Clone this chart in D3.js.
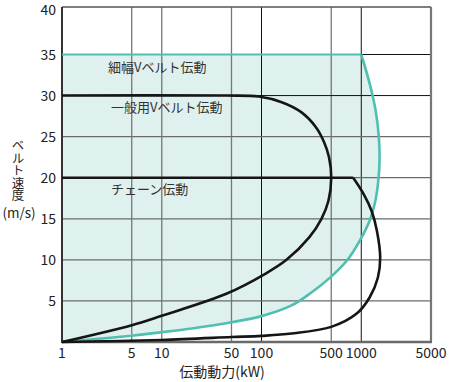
<!DOCTYPE html>
<html><head><meta charset="utf-8">
<script src="https://cdn.jsdelivr.net/npm/d3@7"></script>
<style>body{margin:0;background:#fff}svg{display:block}</style>
</head><body>
<svg id="c" width="449" height="382"></svg>
<script>
// ---- data ----
const xTicks = [1, 5, 10, 50, 100, 500, 1000, 5000];
const xTickLabels = ["1", "5", "10", "50", "100", "500", "1000", "5000"];
const yTicks = [5, 10, 15, 20, 25, 30, 35, 40];
const yTickLabels = ["5", "10", "15", "20", "25", "30", "35", "40"];
// 細幅Vベルト伝動 (teal boundary) [kW, m/s]
const narrowFlat = [[1, 35], [1000, 35]];
const narrowCurve = [[1000, 35], [1216, 31.42], [1393, 28.18], [1501, 24.92], [1525, 22.02], [1468, 19.19], [1361, 16.76], [1216, 14.8], [970, 12.38], [718, 9.92], [493, 7.9], [314, 6.0], [200, 4.45], [100, 3.15], [50, 2.4], [20, 1.65], [10, 1.2], [5, 0.77], [1, 0]];
// 一般用Vベルト伝動
const generalCurve = [[1, 30], [44.4, 30], [94, 29.88], [159.5, 29.19], [250, 27.98], [351, 26.15], [424, 24.33], [475, 22.5], [500, 20], [468, 17.17], [399, 15], [302, 12.77], [178, 10], [109, 8.3], [44.4, 5.87], [10, 3.2], [5, 2.05], [1, 0]];
// チェーン伝動
const chainFlat = [[1, 20], [830, 20]];
const chainCurve = [[830, 20], [1060, 17.98], [1270, 15.95], [1435, 13.52], [1548, 10.28], [1468, 7.85], [1216, 5.45], [900, 3.46], [500, 1.84], [200, 1.03], [100, 0.75], [50, 0.6], [10, 0.25], [1, 0]];
const seriesLabels = ["細幅Vベルト伝動", "一般用Vベルト伝動", "チェーン伝動"];
const yTitle = "ベルト速度";
const yTitleUnit = "(m/s)";
const xTitle = "伝動動力(kW)";

// ---- layout ----
const L = 62, R = 431, T = 7, B = 342;
const svg = d3.select("#c");
const font = "'Noto Sans CJK JP','Noto Sans',sans-serif";
const x = d3.scaleLog().domain([1, 5000]).range([L, R]);
const y = d3.scaleLinear().domain([0, 35, 40]).range([B, 54.5, T]);

const line = d3.line().x(d => x(d[0])).y(d => y(d[1]));
const curve = d3.line().x(d => x(d[0])).y(d => y(d[1])).curve(d3.curveCatmullRom.alpha(0.5));

// fill region
svg.append("path")
  .attr("d", curve(narrowCurve) + "L" + x(1) + "," + y(35) + "Z")
  .attr("fill", "#dff1ef");

// gridlines
const darkX = new Set([100, 1000]);
svg.selectAll("line.gx").data(xTicks.filter(v => v > 1 && v < 5000)).join("line")
  .attr("x1", d => x(d)).attr("x2", d => x(d)).attr("y1", T).attr("y2", B)
  .attr("stroke", d => darkX.has(d) ? "#111" : "#777")
  .attr("stroke-width", d => darkX.has(d) ? 1 : 1.3);
const darkY = new Set([30, 35]);
svg.selectAll("line.gy").data(yTicks.filter(v => v < 40)).join("line")
  .attr("x1", L).attr("x2", R).attr("y1", d => y(d)).attr("y2", d => y(d))
  .attr("stroke", d => darkY.has(d) ? "#111" : "#6b6b6b")
  .attr("stroke-width", d => darkY.has(d) ? 1 : 1.3);

// frame
svg.append("line").attr("x1", L).attr("x2", R).attr("y1", T).attr("y2", T).attr("stroke", "#555").attr("stroke-width", 1.5);
svg.append("line").attr("x1", R).attr("x2", R).attr("y1", T).attr("y2", B).attr("stroke", "#777").attr("stroke-width", 2.2);
svg.append("line").attr("x1", L).attr("x2", R + 1).attr("y1", B).attr("y2", B).attr("stroke", "#6a6a6a").attr("stroke-width", 2.4);
svg.append("line").attr("x1", L).attr("x2", L).attr("y1", T).attr("y2", B + 1).attr("stroke", "#333").attr("stroke-width", 2);

// curves
const teal = "#4fbfb0";
svg.append("path").attr("d", line(narrowFlat)).attr("fill", "none").attr("stroke", teal).attr("stroke-width", 2.2);
svg.append("path").attr("d", curve(narrowCurve)).attr("fill", "none").attr("stroke", teal).attr("stroke-width", 2.6);
svg.append("path").attr("d", curve(generalCurve)).attr("fill", "none").attr("stroke", "#151515").attr("stroke-width", 2.6);
svg.append("path").attr("d", line(chainFlat)).attr("fill", "none").attr("stroke", "#151515").attr("stroke-width", 2.6);
svg.append("path").attr("d", curve(chainCurve)).attr("fill", "none").attr("stroke", "#151515").attr("stroke-width", 2.6);

// series labels
const labelPos = [[108, 72], [111, 112], [111, 194]];
svg.selectAll("text.sl").data(seriesLabels).join("text")
  .attr("x", (d, i) => labelPos[i][0]).attr("y", (d, i) => labelPos[i][1])
  .attr("font-family", font).attr("font-size", 13).attr("fill", "#333")
  .text(d => d);

// x tick labels
svg.selectAll("text.xt").data(xTicks).join("text")
  .attr("x", d => x(d)).attr("y", 358)
  .attr("text-anchor", "middle").attr("font-family", font).attr("font-size", 14).attr("fill", "#222")
  .text((d, i) => xTickLabels[i]);
// y tick labels
svg.selectAll("text.yt").data(yTicks).join("text")
  .attr("x", 56).attr("y", d => Math.max(y(d), 10)).attr("dy", "0.36em")
  .attr("text-anchor", "end").attr("font-family", font).attr("font-size", 14).attr("fill", "#222")
  .text((d, i) => yTickLabels[i]);

// titles
svg.append("text").attr("x", 222).attr("y", 377).attr("text-anchor", "middle")
  .attr("font-family", font).attr("font-size", 14).attr("fill", "#222").text(xTitle);
svg.append("text").attr("x", 18).attr("y", 139)
  .style("writing-mode", "vertical-rl")
  .attr("font-family", font).attr("font-size", 12.5).attr("fill", "#222").text(yTitle);
svg.append("text").attr("x", 19).attr("y", 218).attr("text-anchor", "middle")
  .attr("font-family", font).attr("font-size", 13.5).attr("fill", "#222").text(yTitleUnit);
</script>
</body></html>
